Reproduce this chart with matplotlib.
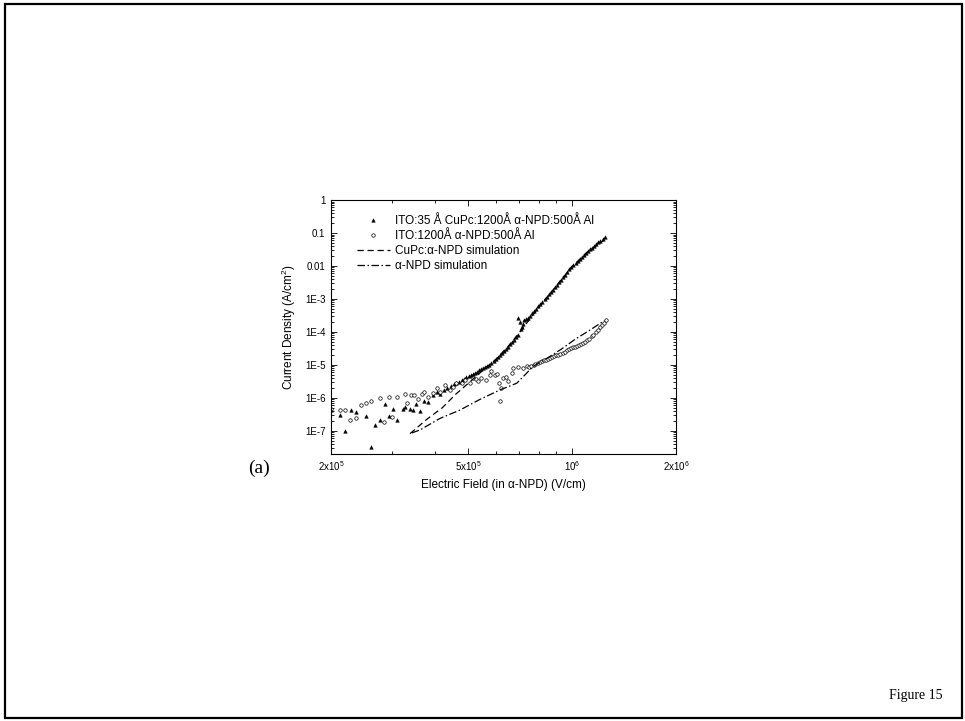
import numpy as np
import matplotlib
matplotlib.use("Agg")
import matplotlib.pyplot as plt
from matplotlib.patches import Rectangle
from matplotlib.ticker import FixedLocator, FixedFormatter, LogLocator, NullFormatter

plt.rcParams['font.family'] = ['Liberation Sans', 'DejaVu Sans']
plt.rcParams['mathtext.fontset'] = 'custom'
plt.rcParams['mathtext.rm'] = 'Liberation Sans'
plt.rcParams['mathtext.it'] = 'Liberation Sans:italic'

# ITO:35 A CuPc:1200 A a-NPD:500 A Al  (field in V/cm, current density in A/cm^2)
cupc_field = [
    2.00e5, 2.12e5, 2.19e5, 2.28e5, 2.37e5, 2.53e5, 2.61e5, 2.69e5, 2.78e5, 2.86e5,
    2.95e5, 3.02e5, 3.11e5, 3.23e5, 3.28e5, 3.38e5, 3.45e5, 3.53e5, 3.62e5, 3.73e5,
    3.83e5, 3.95e5, 4.05e5, 4.15e5, 4.25e5, 4.35e5, 4.45e5, 4.55e5,
    4.62e5, 4.70e5, 4.78e5, 4.85e5, 4.93e5, 5.01e5, 5.08e5, 5.15e5, 5.22e5, 5.30e5,
    5.37e5, 5.44e5, 5.52e5, 5.60e5, 5.68e5, 5.75e5, 5.83e5, 5.92e5, 6.00e5, 6.08e5,
    6.17e5, 6.25e5, 6.34e5, 6.43e5, 6.52e5, 6.61e5, 6.70e5, 6.79e5, 6.89e5, 6.98e5,
    6.96e5, 7.06e5, 7.10e5, 7.15e5, 7.20e5, 7.25e5,
    7.35e5, 7.45e5, 7.55e5, 7.66e5, 7.76e5, 7.87e5, 7.98e5, 8.09e5, 8.20e5, 8.32e5,
    8.43e5, 8.55e5, 8.67e5, 8.79e5, 8.91e5, 9.04e5, 9.16e5, 9.29e5, 9.42e5, 9.55e5,
    9.68e5, 9.82e5, 9.95e5, 1.009e6, 1.023e6, 1.038e6, 1.052e6, 1.067e6, 1.081e6, 1.096e6,
    1.112e6, 1.127e6, 1.143e6, 1.159e6, 1.175e6, 1.191e6, 1.208e6, 1.225e6, 1.242e6,
]
cupc_j = [
    4.3e-7, 3.05e-7, 1.0e-7, 4.3e-7, 3.7e-7, 2.85e-7, 3.2e-8, 1.5e-7, 2.15e-7, 6.4e-7,
    2.85e-7, 4.65e-7, 2.15e-7, 4.6e-7, 5.5e-7, 4.6e-7, 4.3e-7, 6.4e-7, 4.1e-7, 8.1e-7,
    7.8e-7, 1.2e-6, 1.5e-6, 1.3e-6, 1.8e-6, 2.0e-6, 2.3e-6, 2.6e-6,
    2.75e-6, 3.0e-6, 3.55e-6, 3.8e-6, 4.2e-6, 4.7e-6, 5.0e-6, 5.4e-6, 5.75e-6, 6.3e-6,
    6.9e-6, 7.4e-6, 7.9e-6, 8.7e-6, 9.3e-6, 1.02e-5, 1.12e-5, 1.29e-5, 1.48e-5, 1.70e-5,
    1.95e-5, 2.29e-5, 2.63e-5, 3.02e-5, 3.55e-5, 4.17e-5, 4.90e-5, 5.75e-5, 6.9e-5, 8.3e-5,
    2.6e-4, 2.0e-4, 1.2e-4, 1.4e-4, 1.7e-4, 2.3e-4,
    2.40e-4, 2.69e-4, 3.02e-4, 3.63e-4, 4.37e-4, 5.13e-4, 6.03e-4, 7.08e-4, 8.32e-4, 9.77e-4,
    1.17e-3, 1.38e-3, 1.62e-3, 1.91e-3, 2.29e-3, 2.69e-3, 3.24e-3, 3.80e-3, 4.57e-3, 5.50e-3,
    6.61e-3, 7.94e-3, 9.33e-3, 1.10e-2, 1.26e-2, 1.45e-2, 1.66e-2, 1.91e-2, 2.19e-2, 2.51e-2,
    2.82e-2, 3.24e-2, 3.63e-2, 4.17e-2, 4.68e-2, 5.25e-2, 5.89e-2, 6.61e-2, 7.59e-2,
]

# ITO:1200 A a-NPD:500 A Al
npd_field = [
    2.00e5, 2.12e5, 2.19e5, 2.27e5, 2.36e5, 2.44e5, 2.52e5, 2.61e5, 2.78e5, 2.85e5,
    2.95e5, 3.01e5, 3.11e5, 3.28e5, 3.33e5, 3.42e5, 3.49e5, 3.58e5, 3.68e5, 3.73e5,
    3.83e5, 3.96e5, 4.06e5, 4.14e5, 4.28e5, 4.43e5, 4.52e5, 4.62e5, 4.78e5, 4.88e5,
    5.05e5, 5.16e5, 5.28e5, 5.33e5, 5.46e5, 5.64e5, 5.77e5, 5.83e5, 5.96e5, 6.05e5,
    6.12e5, 6.18e5, 6.24e5, 6.32e5, 6.44e5, 6.50e5, 6.68e5, 6.74e5, 6.98e5, 7.20e5,
    7.41e5, 7.52e5, 7.62e5, 7.73e5, 7.83e5, 7.94e5, 8.05e5, 8.17e5, 8.28e5, 8.39e5,
    8.51e5, 8.63e5, 8.75e5, 8.87e5, 8.99e5, 9.12e5, 9.25e5, 9.38e5, 9.51e5, 9.64e5,
    9.77e5, 9.91e5, 1.005e6, 1.019e6, 1.033e6, 1.047e6, 1.062e6, 1.076e6, 1.091e6, 1.107e6,
    1.122e6, 1.138e6, 1.153e6, 1.169e6, 1.186e6, 1.202e6, 1.219e6, 1.236e6, 1.253e6,
]
npd_j = [
    4.6e-7, 4.3e-7, 4.3e-7, 2.15e-7, 2.5e-7, 6.2e-7, 7.2e-7, 8.3e-7, 9.8e-7, 1.9e-7,
    1.05e-6, 2.7e-7, 1.1e-6, 1.3e-6, 6.9e-7, 1.25e-6, 1.25e-6, 9.2e-7, 1.3e-6, 1.55e-6,
    1.1e-6, 1.4e-6, 1.95e-6, 1.55e-6, 2.45e-6, 1.75e-6, 2.2e-6, 2.9e-6, 2.8e-6, 3.5e-6,
    2.8e-6, 4.0e-6, 3.7e-6, 3.2e-6, 4.0e-6, 3.6e-6, 5.0e-6, 6.4e-6, 5.0e-6, 5.4e-6,
    2.8e-6, 8.3e-7, 1.95e-6, 4.0e-6, 4.4e-6, 3.2e-6, 5.6e-6, 7.9e-6, 8.9e-6, 8.0e-6,
    9.5e-6, 8.7e-6, 9.1e-6, 1.02e-5, 1.07e-5, 1.17e-5, 1.23e-5, 1.32e-5, 1.38e-5, 1.45e-5,
    1.55e-5, 1.62e-5, 1.74e-5, 1.86e-5, 1.95e-5, 2.04e-5, 2.19e-5, 2.34e-5, 2.51e-5, 2.75e-5,
    2.95e-5, 3.16e-5, 3.39e-5, 3.55e-5, 3.80e-5, 4.07e-5, 4.37e-5, 4.68e-5, 5.13e-5, 5.62e-5,
    6.31e-5, 7.41e-5, 8.32e-5, 9.77e-5, 1.17e-4, 1.38e-4, 1.58e-4, 1.91e-4, 2.24e-4,
]

# model curves
sim_cupc_field = [3.39e5, 3.8e5, 4.2e5, 4.6e5, 5.06e5, 5.5e5, 6.0e5, 6.5e5, 7.0e5,
                  7.5e5, 8.0e5, 9.0e5, 1.0e6, 1.1e6, 1.24e6]
sim_cupc_j = [8.3e-8, 2.3e-7, 5.0e-7, 1.3e-6, 3.1e-6, 6.8e-6, 1.45e-5, 3.5e-5, 9.0e-5,
              2.3e-4, 5.5e-4, 2.5e-3, 9.6e-3, 2.5e-2, 6.2e-2]

sim_npd_field = [3.43e5, 3.62e5, 4.14e5, 4.73e5, 5.41e5, 6.18e5, 6.91e5, 7.3e5, 7.7e5,
                 8.5e5, 9.3e5, 1.02e6, 1.12e6, 1.24e6]
sim_npd_j = [8.7e-8, 1.07e-7, 2.4e-7, 4.3e-7, 9.1e-7, 1.75e-6, 2.8e-6, 5.0e-6, 9.0e-6,
             1.65e-5, 3.0e-5, 6.0e-5, 1.1e-4, 2.2e-4]

x_ticks = [2e5, 5e5, 1e6, 2e6]
x_tick_labels = ['2x10$^5$', '5x10$^5$', '10$^6$', '2x10$^6$']
x_minor = [3e5, 4e5, 6e5, 7e5, 8e5, 9e5]
y_ticks = [1e-7, 1e-6, 1e-5, 1e-4, 1e-3, 1e-2, 1e-1, 1]
y_tick_labels = ['1E-7', '1E-6', '1E-5', '1E-4', '1E-3', '0.01', '0.1', '1']

W, H = 965, 721
fig = plt.figure(figsize=(W / 100, H / 100), dpi=100)
ax = fig.add_axes([331 / W, 1 - 454 / H, 345 / W, 254 / H])

ax.plot(cupc_field, cupc_j, ls='none', marker='^', ms=2.6, mfc='black', mec='black', mew=0.3,
        label='ITO:35 Å CuPc:1200Å α-NPD:500Å Al')
ax.plot(npd_field, npd_j, ls='none', marker='o', ms=2.5, mfc='white', mec='black', mew=0.5,
        label='ITO:1200Å α-NPD:500Å Al')
ax.plot(sim_cupc_field, sim_cupc_j, color='black', lw=0.9, dashes=(5, 3),
        label='CuPc:α-NPD simulation')
ax.plot(sim_npd_field, sim_npd_j, color='black', lw=0.9, dashes=(6, 2, 1.2, 2),
        label='α-NPD simulation')

ax.set_xscale('log')
ax.set_yscale('log')
ax.set_xlim(2e5, 2e6)
ax.set_ylim(2e-8, 1)

ax.xaxis.set_major_locator(FixedLocator(x_ticks))
ax.xaxis.set_major_formatter(FixedFormatter(x_tick_labels))
ax.xaxis.set_minor_locator(FixedLocator(x_minor))
ax.xaxis.set_minor_formatter(NullFormatter())
ax.yaxis.set_major_locator(FixedLocator(y_ticks))
ax.yaxis.set_major_formatter(FixedFormatter(y_tick_labels))
ax.yaxis.set_minor_locator(LogLocator(base=10, subs=np.arange(2, 10), numticks=30))
ax.yaxis.set_minor_formatter(NullFormatter())

ax.tick_params(which='both', direction='in', top=True, right=True, width=0.6)
ax.tick_params(which='major', length=4, labelsize=7)
ax.tick_params(which='minor', length=2)
ax.tick_params(axis='x', pad=4)
ax.tick_params(axis='y', pad=4)
for s in ax.spines.values():
    s.set_linewidth(0.8)

ax.set_xlabel('Electric Field (in α-NPD) (V/cm)', fontsize=8.5)
ax.set_ylabel('Current Density (A/cm$^2$)', fontsize=8.5)
ax.xaxis.set_label_coords(0.5, -0.1)
ax.yaxis.set_label_coords(-0.095, 0.5)

ax.legend(loc='upper left', bbox_to_anchor=(0.075, 0.94), frameon=False, fontsize=8.5,
          numpoints=1, handlelength=2.8, handletextpad=0.4, labelspacing=0.26,
          borderpad=0, borderaxespad=0)

fig.text(259 / W, 1 - 468 / H, '(a)', fontsize=14, family='Liberation Serif',
         ha='center', va='center')
fig.text(916 / W, 1 - 696 / H, 'Figure 15', fontsize=10, family='Liberation Serif',
         ha='center', va='center')
fig.patches.append(Rectangle((5 / W, 3 / H), 957 / W, 714 / H, transform=fig.transFigure,
                             fill=False, ec='black', lw=1.6))

fig.savefig('out.png', dpi=100)
